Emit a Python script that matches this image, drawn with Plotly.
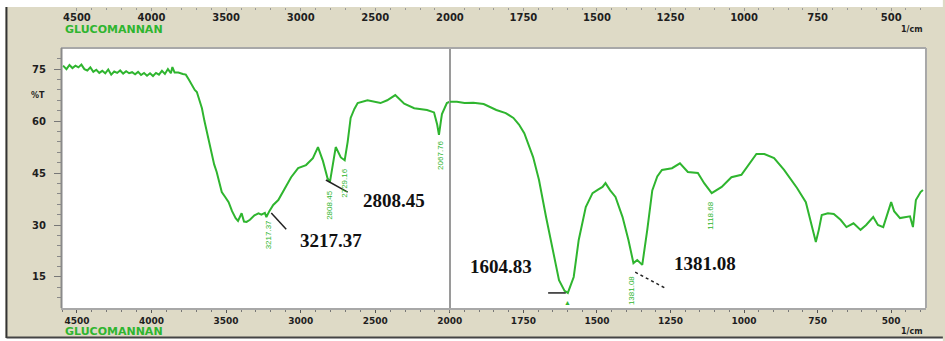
import plotly.graph_objects as go

# ---------------- data ----------------
wavenumber = [
    4593, 4570, 4550, 4530, 4510, 4490, 4470, 4450, 4430, 4410, 4390, 4370, 4350, 4330,
    4310, 4290, 4270, 4250, 4230, 4210, 4190, 4170, 4150, 4130, 4110, 4090, 4070, 4050,
    4030, 4010, 3990, 3970, 3950, 3930, 3910, 3890, 3870, 3860, 3845, 3820, 3790, 3770,
    3750, 3730, 3710, 3696, 3680, 3662, 3645, 3629, 3610, 3596, 3580, 3563, 3545, 3529,
    3505, 3483, 3460, 3436, 3420, 3396, 3380, 3363, 3340, 3310, 3283, 3263, 3240, 3230,
    3210, 3184, 3150, 3104, 3064, 3017, 2964, 2918, 2884, 2851, 2820, 2804, 2785, 2765,
    2731, 2705, 2685, 2665, 2640, 2618, 2552, 2500, 2465, 2420, 2366, 2306, 2239, 2153,
    2106, 2085, 2073, 2060, 2053, 2020, 2000,
    1976, 1950, 1920, 1885, 1860, 1842, 1810, 1784, 1765, 1747, 1717, 1697, 1673, 1649,
    1629, 1610, 1599, 1579, 1562, 1538, 1515, 1495, 1481, 1471, 1455, 1437, 1413, 1393,
    1376, 1363, 1346, 1329, 1312, 1295, 1279, 1245, 1218, 1191, 1157, 1135, 1110, 1076,
    1043, 1009, 980, 958, 931, 898, 864, 820, 790, 773, 756, 746, 736, 715, 695, 672,
    652, 628, 604, 585, 561, 545, 527, 500, 490, 470, 436, 426, 416, 400, 392,
]
transmittance = [
    76.0, 75.0, 76.2, 75.3, 76.0, 75.5, 76.3, 75.0, 74.6, 75.5, 74.2, 74.8, 73.9, 74.5,
    73.8, 74.9, 73.4, 74.3, 73.9, 74.6, 73.7, 74.4, 73.8, 74.1, 73.5, 74.2, 73.3, 73.9,
    73.1, 73.8, 73.0, 73.9, 73.4, 74.5, 73.6, 75.0, 73.8, 75.6, 74.0, 74.0, 73.6, 73.4,
    72.0, 70.4, 69.0, 68.4, 66.0, 63.7, 60.0, 56.8, 53.0, 50.2, 47.5, 45.3, 42.0, 39.5,
    38.0, 36.6, 34.0, 32.0, 31.2, 33.4, 31.0, 30.9, 31.5, 32.8, 33.4, 33.0, 33.5, 32.3,
    34.0, 35.8, 37.2, 40.7, 43.8, 46.4, 47.3, 49.3, 52.5, 48.5, 43.5, 42.4, 47.0, 52.5,
    49.5, 48.7, 54.0, 60.9, 63.5, 65.2, 66.0, 65.5, 65.2, 66.0, 67.5, 65.0, 63.7, 63.2,
    62.5, 59.0, 56.0, 60.0, 62.0, 65.2, 65.6,
    65.6, 65.2, 65.3, 64.9, 64.0, 63.2, 62.3, 60.9, 59.0, 56.5, 49.6, 43.0, 32.3, 21.9,
    14.1, 11.0, 10.4, 15.0, 25.7, 35.2, 39.2, 40.3, 41.0, 42.1, 40.0, 38.1, 32.3, 25.7,
    19.0, 19.9, 18.5, 28.6, 40.0, 44.0, 45.9, 46.4, 47.8, 45.3, 45.0, 42.0, 39.2, 41.0,
    43.8, 44.5, 48.0, 50.5, 50.5, 49.3, 45.9, 40.7, 36.6, 30.6, 25.1, 28.6, 32.9, 33.4,
    33.2, 31.5, 29.4, 30.5, 28.6, 30.0, 32.3, 30.0, 29.4, 36.6, 34.0, 32.0, 32.5, 29.4,
    37.2, 39.5, 40.1,
]

left_ticks = [4500, 4000, 3500, 3000, 2500, 2000]
right_ticks = [1750, 1500, 1250, 1000, 750, 500]
y_ticks = [15, 30, 45, 60, 75]

# peak labels: (wavenumber, %T, text)
green_peaks_left = [(3217, 27.1, "3217.37"), (2804, 35.8, "2808.45"),
                    (2712, 42.1, "2729.16"), (2067, 50.2, "2067.76")]
green_peaks_right = [(1380, 11.0, "1381.08"), (1117, 32.6, "1118.68")]
black_labels = [("x", 2798, 25.4, "3217.37"), ("x", 2372, 37.2, "2808.45"),
                ("x2", 1825, 17.9, "1604.83"), ("x2", 1134, 19.0, "1381.08")]

SPLIT = 2000
left_x = [w for w in wavenumber if w >= SPLIT]
left_y = [t for w, t in zip(wavenumber, transmittance) if w >= SPLIT]
right_x = [w for w in wavenumber if w <= SPLIT]
right_y = [t for w, t in zip(wavenumber, transmittance) if w <= SPLIT]

# ---------------- layout geometry ----------------
W, H = 945, 341
ML, MR, MT, MB = 62, 13, 7, 33
PW, PH = W - ML - MR, H - MT - MB


def pxx(x):
    return (x - ML) / PW


def pyy(y):
    return (H - MB - y) / PH


split_frac = pxx(453)
y_top = pyy(49)

BEIGE = "#DEDAC6"
GREEN = "#2FB52F"
TXT = "#1e1e1e"
tickfont = dict(family="DejaVu Sans", size=10, color=TXT, weight="bold")
tickfont_b = dict(family="DejaVu Sans", size=9, color=TXT, weight="bold")

fig = go.Figure()
fig.add_trace(go.Scatter(x=left_x, y=left_y, mode="lines", xaxis="x", yaxis="y",
                         line=dict(color=GREEN, width=2), hoverinfo="skip"))
fig.add_trace(go.Scatter(x=right_x, y=right_y, mode="lines", xaxis="x2", yaxis="y2",
                         line=dict(color=GREEN, width=2), hoverinfo="skip"))

axis_common = dict(showgrid=False, zeroline=False, tickfont=tickfont_b,
                   tickcolor="#555", ticklen=3, ticks="outside")

fig.update_layout(
    width=W, height=H,
    margin=dict(l=ML, r=MR, t=MT, b=MB),
    paper_bgcolor=BEIGE, plot_bgcolor="white",
    showlegend=False,
    xaxis=dict(domain=[0, split_frac], range=[4600, 2000], anchor="y",
               tickmode="array", tickvals=left_ticks, ticklabelstandoff=0,
               showline=True, linecolor="#A8A8A8", linewidth=2, mirror=True,
               minor=dict(tickmode="linear", tick0=0, dtick=100, ticklen=2,
                          tickcolor="#777", ticks="outside"),
               **axis_common),
    xaxis2=dict(domain=[split_frac, 1], range=[2000, 385], anchor="y2",
                tickmode="array", tickvals=right_ticks, ticklabelstandoff=0,
                showline=True, linecolor="#A8A8A8", linewidth=2, mirror=True,
                minor=dict(tickmode="linear", tick0=0, dtick=50, ticklen=2,
                           tickcolor="#777", ticks="outside"),
                **axis_common),
    xaxis3=dict(overlaying="x", range=[4600, 2000], anchor="free", position=1,
                side="top", tickmode="array", tickvals=left_ticks,
                ticks="inside", ticklabelposition="inside", ticklen=3,
                ticklabelstandoff=2,
                tickcolor="#999", showgrid=False, zeroline=False, tickfont=tickfont,
                showline=False,
                minor=dict(tickmode="linear", tick0=0, dtick=100, ticklen=2,
                           tickcolor="#999", ticks="inside")),
    xaxis4=dict(overlaying="x2", range=[2000, 385], anchor="free", position=1,
                side="top", tickmode="array", tickvals=right_ticks,
                ticks="inside", ticklabelposition="inside", ticklen=3,
                ticklabelstandoff=2,
                tickcolor="#999", showgrid=False, zeroline=False, tickfont=tickfont,
                showline=False,
                minor=dict(tickmode="linear", tick0=0, dtick=50, ticklen=2,
                           tickcolor="#999", ticks="inside")),
    yaxis=dict(domain=[0, y_top], range=[6.05, 80.8], anchor="x",
               tickmode="array", tickvals=y_ticks, ticklabelstandoff=6,
               showline=True, linecolor="#9A9A9A", linewidth=1, mirror=True,
               showgrid=False, zeroline=False, tickfont=tickfont,
               ticks="outside", ticklen=7, tickcolor="#777",
               minor=dict(tickmode="linear", tick0=0, dtick=3, ticklen=4,
                          tickcolor="#888", ticks="outside")),
    yaxis2=dict(domain=[0, y_top], range=[6.05, 80.8], anchor="x2",
                showticklabels=False, ticks="",
                showline=True, linecolor="#9A9A9A", linewidth=1, mirror=True,
                showgrid=False, zeroline=False),
)

# dummy traces so the top axes are drawn
fig.add_trace(go.Scatter(x=[left_x[0]], y=[left_y[0]], xaxis="x3", yaxis="y",
                         mode="markers", marker=dict(opacity=0), hoverinfo="skip"))
fig.add_trace(go.Scatter(x=[right_x[-1]], y=[right_y[-1]], xaxis="x4", yaxis="y2",
                         mode="markers", marker=dict(opacity=0), hoverinfo="skip"))

# ---------------- window frame decorations ----------------
shapes = [
    dict(type="rect", xref="paper", yref="paper", x0=pxx(-5), x1=pxx(W + 5),
         y0=pyy(-5), y1=pyy(7), fillcolor="white", line=dict(width=0)),
    dict(type="rect", xref="paper", yref="paper", x0=pxx(-5), x1=pxx(W + 5),
         y0=pyy(338), y1=pyy(H + 5), fillcolor="white", line=dict(width=0)),
    dict(type="rect", xref="paper", yref="paper", x0=pxx(-5), x1=pxx(5),
         y0=pyy(H + 5), y1=pyy(-5), fillcolor="white", line=dict(width=0)),
    dict(type="line", xref="paper", yref="paper", x0=pxx(6), x1=pxx(6),
         y0=pyy(7), y1=pyy(338), line=dict(color="#333", width=2)),
    dict(type="line", xref="paper", yref="paper", x0=pxx(6), x1=pxx(W + 5),
         y0=pyy(337.5), y1=pyy(337.5), line=dict(color="#444", width=2)),
    # plot frame left / right borders
    dict(type="line", xref="paper", yref="paper", x0=pxx(61.5), x1=pxx(61.5),
         y0=pyy(308), y1=pyy(48), line=dict(color="#8A8A8A", width=2)),
    dict(type="line", xref="paper", yref="paper", x0=pxx(933), x1=pxx(933),
         y0=pyy(308), y1=pyy(48), line=dict(color="#A8A8A8", width=2)),
]

# leader lines (data coordinates)
leaders = [
    ("x", "y", 3197, 33.5, 3097, 28.8, "solid"),
    ("x", "y", 2831, 43.0, 2685, 39.5, "solid"),
    ("x2", "y2", 1666, 10.4, 1606, 10.4, "solid"),
    ("x2", "y2", 1370, 16.4, 1262, 11.5, "dot"),
]
for xr, yr, x0, y0, x1, y1, dash in leaders:
    shapes.append(dict(type="line", xref=xr, yref=yr, x0=x0, y0=y0, x1=x1, y1=y1,
                       line=dict(color="#222", width=1.5, dash=dash)))
fig.update_layout(shapes=shapes)

annotations = []
green_font = dict(family="Liberation Sans", size=8, color=GREEN)
for w, t, s in green_peaks_left:
    annotations.append(dict(xref="x", yref="y", x=w, y=t, text=s, textangle=-90,
                            showarrow=False, font=green_font))
for w, t, s in green_peaks_right:
    annotations.append(dict(xref="x2", yref="y2", x=w, y=t, text=s, textangle=-90,
                            showarrow=False, font=green_font))
annotations.append(dict(xref="x2", yref="y2", x=1600, y=7.6, text="\u25B2",
                        showarrow=False, font=dict(size=7, color=GREEN)))
for xr, w, t, s in black_labels:
    annotations.append(dict(xref=xr, yref="y" if xr == "x" else "y2", x=w, y=t,
                            text="<b>%s</b>" % s, showarrow=False,
                            font=dict(family="Liberation Serif", size=19, color="#111")))

# top-axis "2000" label sits exactly on the split, where the inside label is hidden
annotations.append(dict(xref="x", yref="paper", x=SPLIT, y=pyy(17.5),
                        text=str(SPLIT), xanchor="center", yanchor="middle",
                        showarrow=False, font=tickfont))

label_font = dict(family="DejaVu Sans", size=8, color=TXT, weight="bold")
glu_font = dict(family="DejaVu Sans", size=11, color=GREEN, weight="bold")
annotations += [
    dict(xref="paper", yref="paper", x=pxx(47), y=pyy(95), text="%T",
         xanchor="right", yanchor="middle", showarrow=False, font=label_font),
    dict(xref="paper", yref="paper", x=pxx(932), y=pyy(30), text="1/cm",
         xanchor="right", yanchor="middle", showarrow=False, font=label_font),
    dict(xref="paper", yref="paper", x=pxx(932), y=pyy(331), text="1/cm",
         xanchor="right", yanchor="middle", showarrow=False, font=label_font),
    dict(xref="paper", yref="paper", x=pxx(63), y=pyy(29.5), xanchor="left",
         yanchor="middle", text="GLUCOMANNAN", showarrow=False, font=glu_font),
    dict(xref="paper", yref="paper", x=pxx(63), y=pyy(331.5), xanchor="left",
         yanchor="middle", text="GLUCOMANNAN", showarrow=False, font=glu_font),
]
fig.update_layout(annotations=annotations)

fig.write_html("out.html")
